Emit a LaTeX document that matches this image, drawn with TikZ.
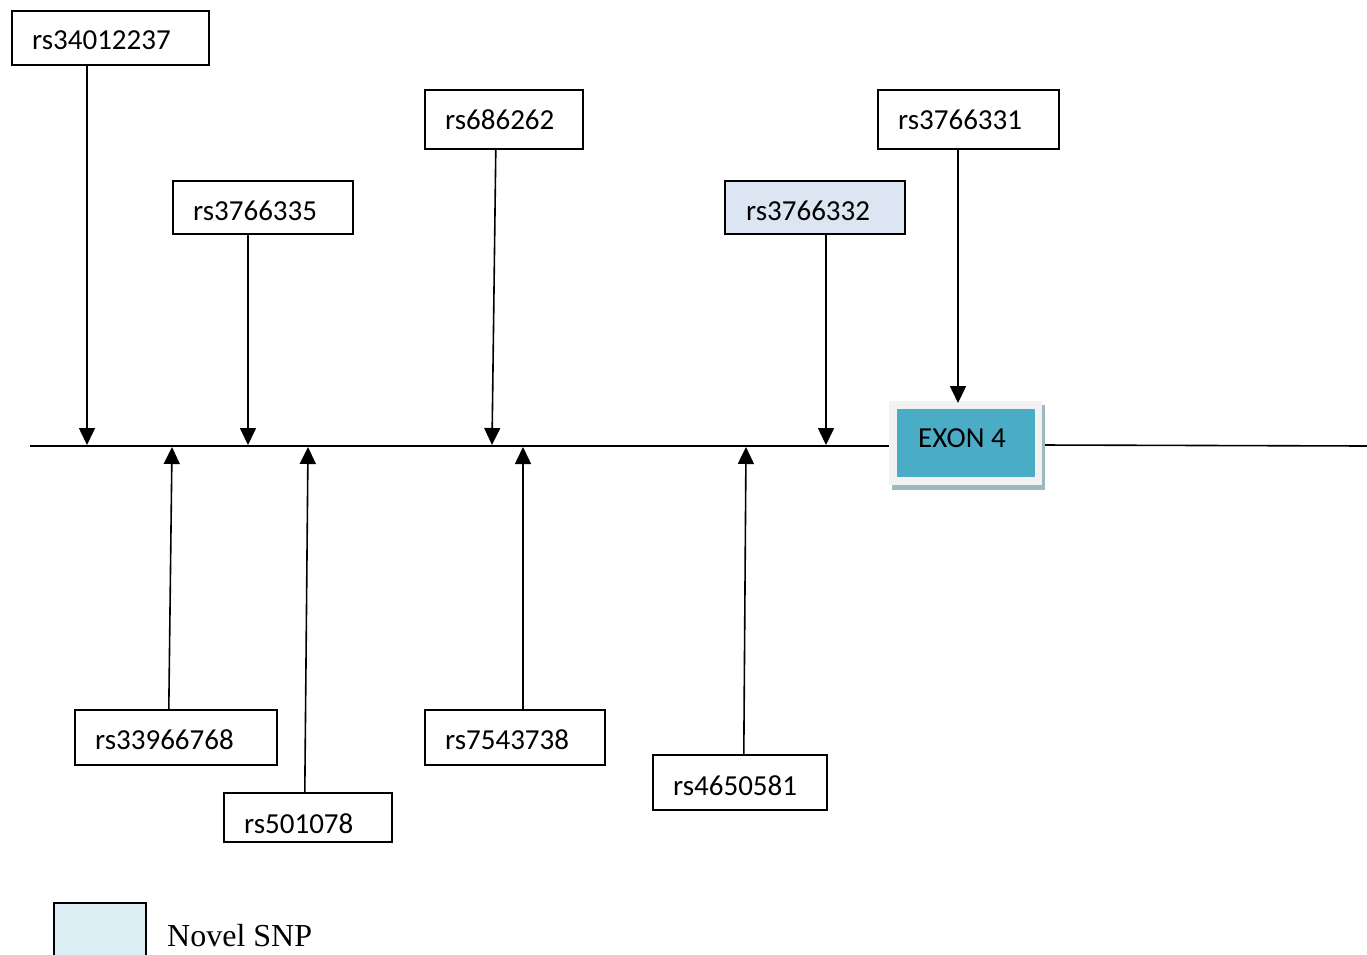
\documentclass[tikz,border=0pt]{standalone}
\usepackage{fontspec}
\setmainfont{Liberation Serif}
\newfontfamily\calib{Carlito}
\usetikzlibrary{arrows.meta}
\definecolor{novel}{HTML}{DCE6F2}
\definecolor{legendfill}{HTML}{DAEEF3}
\definecolor{teal}{HTML}{4BACC6}
\definecolor{exonshadow}{HTML}{9DB8C3}
\definecolor{exonouter}{HTML}{F2F2F2}
\tikzset{
  snpbox/.style={draw=black, line width=1.6pt, rectangle, inner sep=0pt, anchor=north west},
  snplbl/.style={anchor=base west, inner sep=0pt, font=\calib\fontsize{29}{34}\selectfont},
  arr/.style={line width=1.6pt, -{Triangle[width=16pt,length=17pt]}},
  mainline/.style={line width=1.6pt},
}
\begin{document}
\begin{tikzpicture}[x=1pt,y=-1pt]
\useasboundingbox (0,0) rectangle (1367,955);
\clip (0,0) rectangle (1367,955);
% main line points
\coordinate (l0) at (30,446);
\coordinate (l1) at (890,446);
\coordinate (r0) at (1040,445);
\coordinate (r1) at (1367,446);
\draw[mainline] (l0) -- (l1);
\draw[mainline] (r0) -- (r1);
% EXON 4
\fill[exonshadow] (892,405) rectangle (1045,490);
\fill[exonouter] (889,401) rectangle (1042,485);
\node[fill=teal, inner sep=0pt, minimum width=138pt, minimum height=68pt, anchor=north west] (exon) at (897,409) {};
\node[snplbl] (exonlbl) at (918,447) {EXON 4};
% upper boxes
\node[snpbox, minimum width=197pt, minimum height=54pt] (a) at (11,10) {};
\node[snplbl] (at) at (32,50) {rs34012237};
\node[snpbox, minimum width=180pt, minimum height=53pt] (b) at (172,180) {};
\node[snplbl] (bt) at (193,220) {rs3766335};
\node[snpbox, minimum width=158pt, minimum height=59pt] (c) at (424,89) {};
\node[snplbl] (ct) at (445,129) {rs686262};
\node[snpbox, fill=novel, minimum width=180pt, minimum height=53pt] (d) at (724,180) {};
\node[snplbl] (dt) at (746,220) {rs3766332};
\node[snpbox, minimum width=181pt, minimum height=59pt] (e) at (877,89) {};
\node[snplbl] (et) at (898,129) {rs3766331};
% lower boxes
\node[snpbox, minimum width=202pt, minimum height=55pt] (f) at (74,709) {};
\node[snplbl] (ft) at (95,749) {rs33966768};
\node[snpbox, minimum width=168pt, minimum height=49pt] (g) at (223,792) {};
\node[snplbl] (gt) at (244,833) {rs501078};
\node[snpbox, minimum width=180pt, minimum height=55pt] (h) at (424,709) {};
\node[snplbl] (ht) at (445,749) {rs7543738};
\node[snpbox, minimum width=174pt, minimum height=55pt] (i) at (652,754) {};
\node[snplbl] (it) at (673,795) {rs4650581};
% targets on the line
\coordinate (pa) at (87,445);
\coordinate (pb) at (248,445);
\coordinate (pc) at (492,445);
\coordinate (pd) at (826,445);
\coordinate (pe) at (958,403);
\coordinate (pf) at (172,447);
\coordinate (pg) at (308,447);
\coordinate (ph) at (523,447);
\coordinate (pi) at (746,447);
% down arrows
\draw[arr] (a.south -| pa) -- (pa);
\draw[arr] (b.south -| pb) -- (pb);
\draw[arr] ([xshift=-8pt]c.south) -- (pc);
\draw[arr] (d.south -| pd) -- (pd);
\draw[arr] (e.south -| pe) -- (pe);
% up arrows
\draw[arr] ([xshift=-7pt]f.north) -- (pf);
\draw[arr] ([xshift=-3pt]g.north) -- (pg);
\draw[arr] (h.north -| ph) -- (ph);
\draw[arr] ([xshift=4pt]i.north) -- (pi);
% legend
\node[draw=black, line width=1.6pt, fill=legendfill, inner sep=0pt, minimum width=92pt, minimum height=70pt, anchor=north west] (leg) at (53,902) {};
\node[anchor=base west, inner sep=0pt, font=\fontsize{32}{37}\selectfont] (legt) at (167,946) {Novel SNP};
\end{tikzpicture}
\end{document}
